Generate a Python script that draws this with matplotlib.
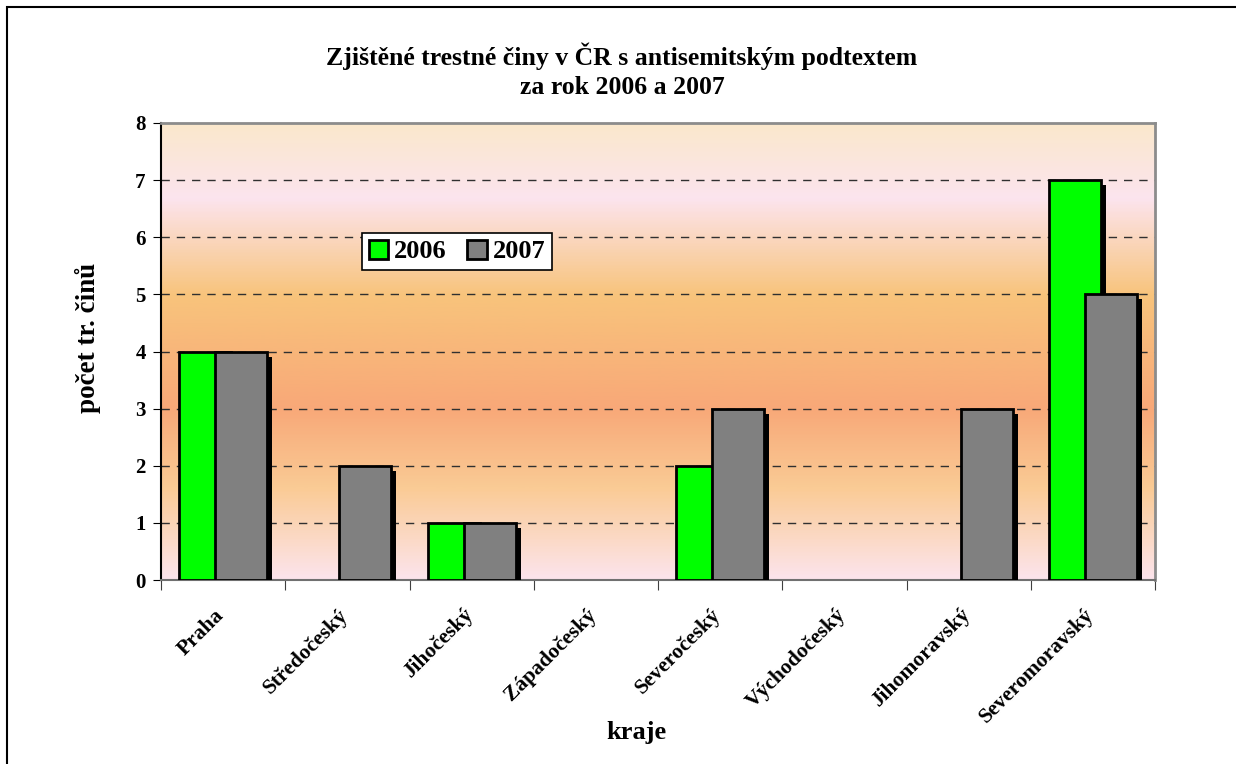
import numpy as np
import matplotlib
matplotlib.use("Agg")
from matplotlib import pyplot as plt
from matplotlib import patches
from matplotlib import patheffects as pe
from matplotlib import transforms
from matplotlib.colors import LinearSegmentedColormap

# data
kraje = ["Praha", "Středočeský", "Jihočeský", "Západočeský",
         "Severočeský", "Východočeský", "Jihomoravský", "Severomoravský"]
rok_2006 = [4, 0, 1, 0, 2, 0, 0, 7]
rok_2007 = [4, 2, 1, 0, 3, 0, 3, 5]

plt.rcParams['font.family'] = ['Liberation Serif', 'DejaVu Serif']
plt.rcParams['font.weight'] = 'bold'

fig = plt.figure(figsize=(12.36, 7.64), dpi=100)
W, H = 1236, 764
ax = fig.add_axes([161 / W, 1 - 580 / H, (1155 - 161) / W, (580 - 123) / H])

def ax_x(px):
    return (px - 161) / 994

def ax_y(py):
    return (580 - py) / 457

# outer frame of the chart area
fig.patches.append(patches.Rectangle((7 / W, -0.05), 1.1, 1 - 7 / H + 0.05,
                                     transform=fig.transFigure, fill=False,
                                     ec='black', lw=1.5))

# gradient background (value -> colour)
stops = [(0.0, '#fce4ec'), (1.6 / 8, '#facb95'), (3.0 / 8, '#f8a878'),
         (5.0 / 8, '#f8c47c'), (6.7 / 8, '#fce4ee'), (1.0, '#fae8cc')]
cmap = LinearSegmentedColormap.from_list('bg', stops)
grad = np.linspace(0, 1, 400).reshape(-1, 1)
ax.imshow(grad, cmap=cmap, aspect='auto', origin='lower',
          extent=(0, len(kraje), 0, 8), zorder=0)

x = np.arange(len(kraje)) + 0.5
w = 0.42
shadow = [pe.SimplePatchShadow(offset=(3.6, -3.6), shadow_rgbFace='black', alpha=1.0),
          pe.Normal()]

for vals, off, col in [(rok_2006, -0.145, '#00ff00'), (rok_2007, 0.145, '#808080')]:
    for xi, v in zip(x, vals):
        if v <= 0:
            continue
        b = ax.bar(xi + off, v, width=w, color=col, edgecolor='black',
                   linewidth=2, zorder=3)
        b[0].set_path_effects(shadow)

ax.set_xlim(0, len(kraje))
ax.set_ylim(0, 8)
ax.set_yticks(range(0, 9))
ax.set_yticklabels([str(i) for i in range(0, 9)], fontsize=15, fontweight='bold')
ax.set_xticks(np.arange(len(kraje) + 1))
ax.set_xticklabels([])
ax.set_xticks(x, minor=True)
ax.set_xticklabels(kraje, minor=True, rotation=45, ha='right', va='top',
                   rotation_mode='anchor', fontsize=15.5, fontweight='bold')
ax.tick_params(axis='x', which='minor', length=0, pad=18)
ax.tick_params(axis='x', which='major', length=7, color='#404040')
ax.tick_params(axis='y', length=6, pad=5)
shift = transforms.ScaledTranslation(-9 / 100, 0, fig.dpi_scale_trans)
for lbl in ax.get_xticklabels(minor=True):
    lbl.set_transform(lbl.get_transform() + shift)

for yv in range(1, 8):
    ax.axhline(yv, color='#303030', lw=1, ls=(0, (6, 5)), zorder=1)

ax.spines['left'].set_color('black')
ax.spines['left'].set_linewidth(1.5)
ax.spines['bottom'].set_color('#707070')
ax.spines['bottom'].set_linewidth(1.5)
for s in ['top', 'right']:
    ax.spines[s].set_color('#8c8c8c')
    ax.spines[s].set_linewidth(2)

ax.set_ylabel('počet tr. činů', fontsize=19.5, fontweight='bold')
ax.yaxis.set_label_coords(ax_x(88), ax_y(338))
ax.set_xlabel('kraje', fontsize=19, fontweight='bold')
ax.xaxis.set_label_coords(ax_x(636), ax_y(733))
ax.xaxis.label.set_va('center')
ax.yaxis.label.set_va('center')

fig.text(622 / W, 1 - 56 / H, 'Zjištěné trestné činy v ČR s antisemitským podtextem',
         ha='center', va='center', fontsize=18.5, fontweight='bold')
fig.text(622 / W, 1 - 88 / H, 'za rok 2006 a 2007',
         ha='center', va='center', fontsize=18.5, fontweight='bold')

handles = [patches.Patch(fc='#00ff00', ec='black', lw=2, label='2006'),
           patches.Patch(fc='#808080', ec='black', lw=2, label='2007')]
leg = ax.legend(handles=handles, loc='upper left',
                bbox_to_anchor=(ax_x(362), ax_y(233)),
                ncol=2, frameon=True, fancybox=False, framealpha=1,
                edgecolor='black', fontsize=19, handlelength=0.75,
                handleheight=0.75, handletextpad=0.2, columnspacing=0.8,
                borderpad=0.25, borderaxespad=0)
leg.get_frame().set_linewidth(1.2)
for t in leg.get_texts():
    t.set_fontweight('bold')

fig.savefig('out.png', dpi=100)
